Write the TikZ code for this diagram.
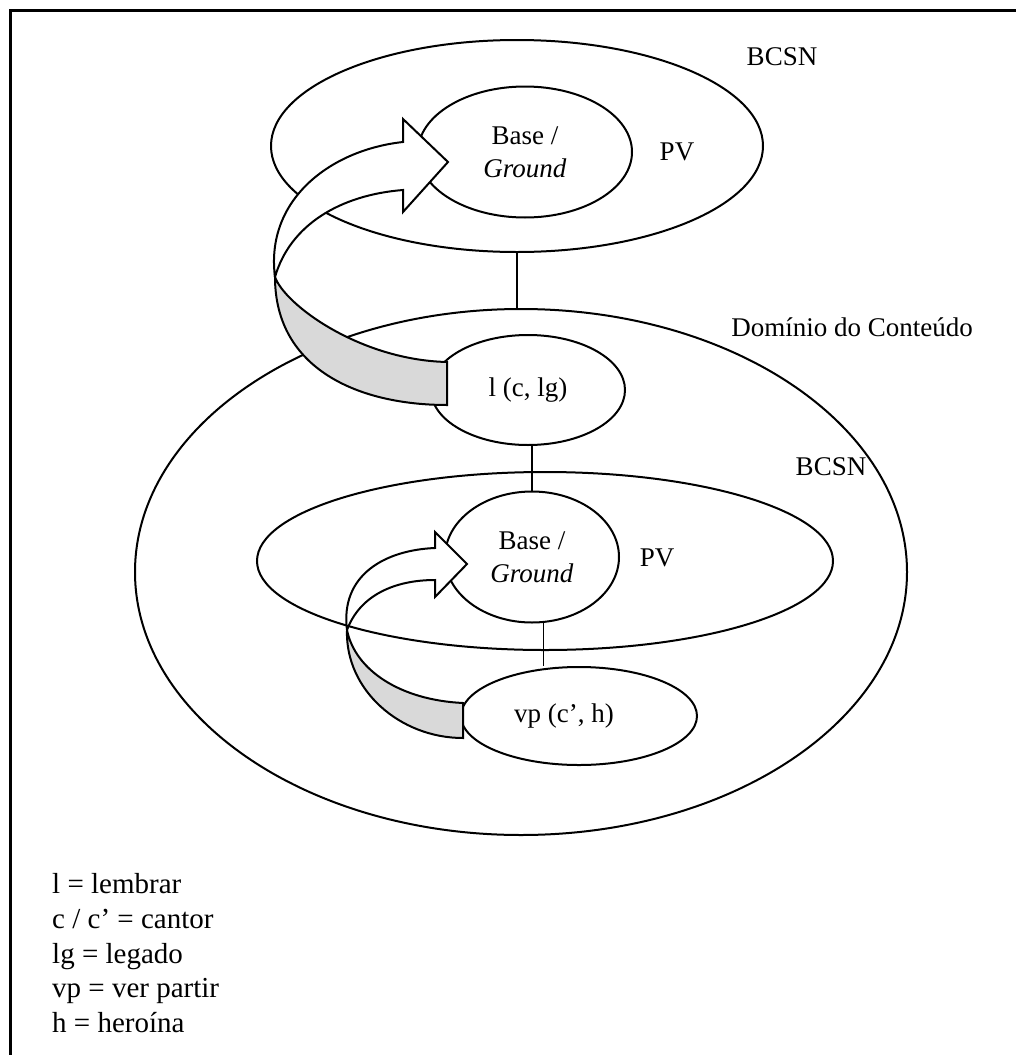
\documentclass[tikz,border=0pt]{standalone}
\usepackage{fontspec}
\setmainfont{Liberation Serif}
\usetikzlibrary{shapes.geometric}
\definecolor{bandgray}{RGB}{217,217,217}
\begin{document}
\begin{tikzpicture}[x=1pt,y=-1pt,
  every node/.style={font=\fontsize{27}{33}\selectfont},
  oval/.style={draw, ellipse, line width=2pt, inner sep=0pt},
  lbl/.style={inner sep=0pt},
  key/.style={inner sep=0pt, anchor=base west, font=\fontsize{29}{35}\selectfont},
  link/.style={line width=1.6pt},
  ribbon/.style={draw, line width=2pt, line join=miter},
  ]
\useasboundingbox (0,0) rectangle (1016,1055);
% frame
\draw[line width=3pt] (10,1070) -- (10,10) -- (1030,10);

% upper space: BCSN with its base
\node[oval, minimum width=492pt, minimum height=212pt] (bcsnA) at (517,146) {};
\node[oval, minimum width=214pt, minimum height=131pt, align=center] (baseA) at (525,152) {Base /\\\textit{Ground}};

% content domain
\node[oval, minimum width=772pt, minimum height=526pt] (dom) at (521,572) {};
\node[oval, minimum width=194pt, minimum height=110pt] (lc) at (528,390) {l (c, lg)};

% embedded BCSN
\node[oval, minimum width=576pt, minimum height=178pt] (bcsnB) at (545,561) {};
\node[oval, minimum width=174pt, minimum height=131pt, align=center] (baseB) at (532,557) {Base /\\\textit{Ground}};
\node[oval, minimum width=236pt, minimum height=98pt] (vp) at (579,716) {};
\node[lbl] (vpt) at (564,716) {vp (c’, h)};

% labels
\node[lbl] (bcsnAl) at (782,57) {BCSN};
\node[lbl] (pvA) at (677,152) {PV};
\node[lbl] (doml) at (852,327) {Domínio do Conteúdo};
\node[lbl] (bcsnBl) at (831,467) {BCSN};
\node[lbl] (pvB) at (657,558) {PV};

% links between spaces
\draw[link] (bcsnA.south) -- (bcsnA.south |- dom.north);
\draw[link] (lc.south -| baseB.north) -- (baseB.north);
\draw[link] (baseB.-80) -- (baseB.-80 |- vp.north);

% upper ribbon arrow
\filldraw[ribbon, fill=bandgray] (275,277) .. controls (285,305) and (360,360) .. (447,362)
  -- (447,405) .. controls (360,405) and (275,370) .. cycle;
\filldraw[ribbon, fill=white] (275,277) .. controls (265,200) and (330,150) .. (403,142)
  -- (403,119) -- (448,162) -- (403,212) -- (403,190)
  .. controls (340,195) and (290,225) .. cycle;

% lower ribbon arrow
\filldraw[ribbon, fill=bandgray] (347,630) .. controls (355,670) and (400,700) .. (463,703)
  -- (463,738) .. controls (400,738) and (345,690) .. cycle;
\filldraw[ribbon, fill=white] (347,630) .. controls (340,575) and (385,550) .. (435,548)
  -- (435,532) -- (467,564) -- (435,597) -- (435,580)
  .. controls (395,580) and (360,595) .. cycle;

% legend
\node[key] (lg1) at (52,893) {l = lembrar};
\node[key] (lg2) at (52,928) {c / c’ = cantor};
\node[key] (lg3) at (52,963) {lg = legado};
\node[key] (lg4) at (52,997) {vp = ver partir};
\node[key] (lg5) at (52,1032) {h = heroína};
\end{tikzpicture}
\end{document}
